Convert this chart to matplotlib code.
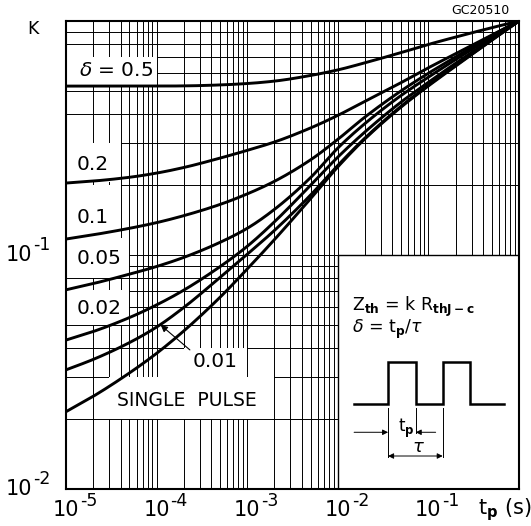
import numpy as np
import matplotlib
matplotlib.use("Agg")
import matplotlib.pyplot as plt
from matplotlib.patches import Rectangle
from matplotlib.ticker import LogLocator, NullFormatter
from matplotlib.transforms import offset_copy

tp = [1e-5, 2e-5, 5e-5, 1e-4, 2e-4, 5e-4, 1e-3, 2e-3, 5e-3,
      1e-2, 2e-2, 5e-2, 1e-1, 2e-1, 5e-1, 1.0]

k_d05 = [.527, .527, .527, .527, .528, .533, .5405, .5535, .585, .618, .663, .733, .794, .854, .936, 1.0]
k_d02 = [.203, .207, .2148, .2239, .2366, .2594, .280, .304, .349, .395, .454, .5454, .631, .725, .87, 1.0]
k_d01 = [.117, .122, .130, .1375, .1473, .1644, .1824, .2065, .255, .312, .389, .503, .598, .702, .866, 1.0]
k_d005 = [.071, .0755, .0828, .0893, .0977, .1132, .130, .1567, .2141, .2864, .365, .4806, .5755, .6844, .853, 1.0]
k_d002 = [.0433, .0471, .054, .0612, .0708, .0891, .1089, .1387, .1985, .262, .336, .4505, .547, .66, .837, 1.0]
k_d001 = [.0323, .0358, .0422, .0492, .0597, .0801, .1007, .1274, .1803, .2414, .3164, .4323, .532, .646, .8275, 1.0]
k_single = [.0214, .0249, .0313, .038, .0474, .0659, .0871, .1164, .174, .238, .314, .429, .528, .642, .829, 1.0]

curves = [k_d05, k_d02, k_d01, k_d005, k_d002, k_d001, k_single]

x_exps = [-5, -4, -3, -2, -1]
y_exps = [-2, -1]


def pchip_loglog(xs, ys, n=500):
    lx = np.log10(xs)
    ly = np.log10(ys)
    h = np.diff(lx)
    d = np.diff(ly) / h
    m = np.empty(len(lx))
    m[0], m[-1] = d[0], d[-1]
    for i in range(1, len(lx) - 1):
        if d[i - 1] * d[i] <= 0:
            m[i] = 0.0
        else:
            w1 = 2 * h[i] + h[i - 1]
            w2 = h[i] + 2 * h[i - 1]
            m[i] = (w1 + w2) / (w1 / d[i - 1] + w2 / d[i])
    t = np.linspace(lx[0], lx[-1], n)
    i = np.clip(np.searchsorted(lx, t) - 1, 0, len(h) - 1)
    s = (t - lx[i]) / h[i]
    h00 = 2 * s**3 - 3 * s**2 + 1
    h10 = s**3 - 2 * s**2 + s
    h01 = -2 * s**3 + 3 * s**2
    h11 = s**3 - s**2
    yy = h00 * ly[i] + h10 * h[i] * m[i] + h01 * ly[i + 1] + h11 * h[i] * m[i + 1]
    return 10**t, 10**yy


W, H = 531, 526
fig = plt.figure(figsize=(W / 100, H / 100), dpi=100)
ax = fig.add_axes([66 / W, 37 / H, 453 / W, 468 / H])
ax.set_xscale("log")
ax.set_yscale("log")
ax.set_xlim(1e-5, 1)
ax.set_ylim(1e-2, 1)
ax.xaxis.set_major_locator(LogLocator(base=10, numticks=10))
ax.xaxis.set_minor_locator(LogLocator(base=10, subs=np.arange(2, 10), numticks=20))
ax.yaxis.set_major_locator(LogLocator(base=10, numticks=10))
ax.yaxis.set_minor_locator(LogLocator(base=10, subs=np.arange(2, 10), numticks=20))
ax.xaxis.set_minor_formatter(NullFormatter())
ax.yaxis.set_minor_formatter(NullFormatter())
ax.set_axisbelow(True)
ax.grid(which="both", color="black", lw=0.7)
ax.tick_params(which="both", length=0, labelbottom=False, labelleft=False)
for sp in ax.spines.values():
    sp.set_linewidth(1.5)
    sp.set_zorder(5)

# white cells behind the curve labels
cells = [(1e-5, 1e-4, 0.53, 0.70), (1e-5, 4e-5, 0.205, 0.30),
         (1e-5, 4e-5, 0.118, 0.20), (1e-5, 5e-5, 0.08, 0.118),
         (1e-5, 5e-5, 0.05, 0.071), (2e-4, 1e-3, 0.03, 0.04),
         (3e-5, 2e-3, 0.02, 0.03)]
for x0, x1, y0, y1 in cells:
    ax.add_patch(Rectangle((x0, y0), x1 - x0, y1 - y0, facecolor="white",
                           edgecolor="none", zorder=1))
ax.add_patch(Rectangle((1e-2, 1e-2), 1 - 1e-2, 1e-1 - 1e-2, facecolor="white",
                       edgecolor="black", lw=1.0, zorder=1))

for k in curves:
    xs, ys = pchip_loglog(tp, k)
    ax.plot(xs, ys, color="black", lw=2.1, zorder=3, solid_capstyle="butt")

fs = 14.5
ax.text(3.56e-5, 0.617, r"$\delta$ = 0.5", ha="center", va="center", fontsize=fs, zorder=4)
ax.text(1.3e-5, 0.243, "0.2", ha="left", va="center", fontsize=fs, zorder=4)
ax.text(1.3e-5, 0.144, "0.1", ha="left", va="center", fontsize=fs, zorder=4)
ax.text(1.3e-5, 0.097, "0.05", ha="left", va="center", fontsize=fs, zorder=4)
ax.text(1.3e-5, 0.0588, "0.02", ha="left", va="center", fontsize=fs, zorder=4)
ax.text(4.4e-4, 0.0349, "0.01", ha="center", va="center", fontsize=fs, zorder=4)
ax.text(3.62e-5, 0.0238, "SINGLE  PULSE", ha="left", va="center", fontsize=13.5, zorder=4)
ax.annotate("", xy=(1.11e-4, 0.0502), xytext=(2.33e-4, 0.0393), zorder=4,
            arrowprops=dict(arrowstyle="-|>", color="black", lw=0.8,
                            mutation_scale=10, shrinkA=0, shrinkB=0))

# inset: definitions and pulse train
ta = ax.transAxes
ax.text(0.631, 0.389, r"Z$_{\mathbf{th}}$ = k R$_{\mathbf{thJ-c}}$", transform=ta,
        ha="left", va="center", fontsize=12.5, zorder=4)
ax.text(0.631, 0.340, r"$\delta$ = t$_{\mathbf{p}}$/$\tau$", transform=ta,
        ha="left", va="center", fontsize=12.5, zorder=4)
px = [0.636, 0.711, 0.711, 0.772, 0.772, 0.8316, 0.8316, 0.892, 0.892, 0.967]
py = [0.1816, 0.1816, 0.2714, 0.2714, 0.1816, 0.1816, 0.2714, 0.2714, 0.1816, 0.1816]
ax.plot(px, py, transform=ta, color="black", lw=1.8, zorder=4, solid_joinstyle="miter")
for x, y0 in [(0.711, 0.069), (0.772, 0.1197), (0.8316, 0.069)]:
    ax.plot([x, x], [0.1724, y0], transform=ta, color="black", lw=0.7, zorder=4)
arr = dict(color="black", lw=0.7, mutation_scale=8, shrinkA=0, shrinkB=0)
ax.annotate("", xy=(0.711, 0.1212), xytext=(0.636, 0.1212), xycoords=ta,
            textcoords=ta, arrowprops=dict(arrowstyle="-|>", **arr), zorder=4)
ax.annotate("", xy=(0.772, 0.1212), xytext=(0.816, 0.1212), xycoords=ta,
            textcoords=ta, arrowprops=dict(arrowstyle="-|>", **arr), zorder=4)
ax.annotate("", xy=(0.711, 0.0705), xytext=(0.8316, 0.0705), xycoords=ta,
            textcoords=ta, arrowprops=dict(arrowstyle="<|-|>", **arr), zorder=4)
ax.text(0.733, 0.13, r"t$_{\mathbf{p}}$", transform=ta, ha="left", va="center",
        fontsize=12, zorder=4)
ax.text(0.779, 0.0897, r"$\tau$", transform=ta, ha="center", va="center",
        fontsize=13, zorder=4)

# tick labels: large base with near full size exponent
xt = ax.get_xaxis_transform()
for e in x_exps:
    v = 10.0**e
    ax.text(v, 0, "10", transform=offset_copy(xt, fig=fig, x=0, y=-21, units="dots"),
            ha="center", va="center", fontsize=15)
    ax.text(v, 0, f"-{-e}", transform=offset_copy(xt, fig=fig, x=14, y=-11.5, units="dots"),
            ha="left", va="center", fontsize=12.5)
yt = ax.get_yaxis_transform()
for e in y_exps:
    v = 10.0**e
    ax.text(0, v, "10", transform=offset_copy(yt, fig=fig, x=-34, y=0, units="dots"),
            ha="right", va="center", fontsize=15)
    ax.text(0, v, f"-{-e}", transform=offset_copy(yt, fig=fig, x=-33, y=9.5, units="dots"),
            ha="left", va="center", fontsize=12.5)

fig.text(478 / W, 1 - 510 / H, r"t$_{\mathbf{p}}$ (s)", ha="left", va="center", fontsize=15)
fig.text(33 / W, 1 - 28.5 / H, "K", ha="center", va="center", fontsize=12.5)
fig.text(480 / W, 1 - 11 / H, "GC20510", ha="center", va="center", fontsize=9)

fig.savefig("out.png", dpi=100)
